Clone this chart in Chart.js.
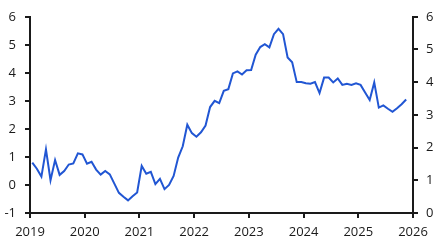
<!DOCTYPE html>
<html lang="en">
<head>
<meta charset="UTF-8" />
<title>Chart</title>
<script src="https://cdn.jsdelivr.net/npm/chart.js@4/dist/chart.umd.min.js"></script>
<style>
  html, body { margin: 0; padding: 0; background: #fff; }
  #wrap { width: 443px; height: 248px; }
</style>
</head>
<body>
<div id="wrap"><canvas id="chart" width="443" height="248"></canvas></div>
<script>
// monthly series, Jan 2019 .. Oct 2025
const startYear = 2019;
const values = [
  0.80, 0.58, 0.30, 1.27, 0.17, 0.89, 0.36, 0.50, 0.73, 0.77, 1.13, 1.09,
  0.76, 0.83, 0.55, 0.37, 0.50, 0.38, 0.05, -0.28, -0.42, -0.55, -0.40, -0.27,
  0.68, 0.40, 0.47, 0.03, 0.22, -0.15, 0.00, 0.32, 0.98, 1.38, 2.15, 1.85,
  1.72, 1.88, 2.12, 2.78, 3.00, 2.92, 3.36, 3.42, 3.98, 4.05, 3.94, 4.09,
  4.10, 4.65, 4.92, 5.02, 4.91, 5.38, 5.57, 5.38, 4.55, 4.38, 3.67, 3.67,
  3.63, 3.61, 3.67, 3.28, 3.83, 3.83, 3.66, 3.80, 3.57, 3.61, 3.57, 3.63,
  3.57, 3.30, 3.03, 3.66, 2.76, 2.84, 2.72, 2.61, 2.74, 2.88, 3.05
];
const xTicks = [2019, 2020, 2021, 2022, 2023, 2024, 2025, 2026];
const leftTicks = [-1, 0, 1, 2, 3, 4, 5, 6];
const rightTicks = [0, 1, 2, 3, 4, 5, 6];

const points = values.map((v, i) => ({ x: startYear + (i + 0.5) / 12, y: v }));

const ink = '#1a1a1a';
const font = { family: '"Open Sans", "Noto Sans", sans-serif', size: 13 };
const axisGrid = { drawOnChartArea: false, drawTicks: true, tickLength: 5, color: ink, lineWidth: 2 };
const axisBorder = { display: true, color: ink, width: 2 };

new Chart(document.getElementById('chart').getContext('2d'), {
  type: 'line',
  data: {
    datasets: [{
      data: points,
      borderColor: '#2156d3',
      borderWidth: 2,
      pointRadius: 0,
      tension: 0,
      fill: false,
      yAxisID: 'y',
    }],
  },
  options: {
    responsive: false,
    devicePixelRatio: 1,
    animation: false,
    layout: { padding: { top: 12, left: 0, right: 0, bottom: 0 } },
    plugins: { legend: { display: false }, tooltip: { enabled: false } },
    scales: {
      x: {
        type: 'linear',
        min: xTicks[0],
        max: xTicks[xTicks.length - 1],
        afterBuildTicks: (s) => { s.ticks = xTicks.map((v) => ({ value: v })); },
        ticks: { font, color: ink, padding: 6, maxRotation: 0, callback: (v) => String(v) },
        grid: axisGrid,
        border: axisBorder,
        afterFit: (s) => { s.height = 35; },
      },
      y: {
        position: 'left',
        min: leftTicks[0],
        max: leftTicks[leftTicks.length - 1],
        afterBuildTicks: (s) => { s.ticks = leftTicks.map((v) => ({ value: v })); },
        ticks: { font, color: ink, padding: 9 },
        grid: axisGrid,
        border: axisBorder,
        afterFit: (s) => { s.width = 30; },
      },
      y2: {
        position: 'right',
        display: true,
        min: rightTicks[0],
        max: rightTicks[rightTicks.length - 1],
        afterBuildTicks: (s) => { s.ticks = rightTicks.map((v) => ({ value: v })); },
        ticks: { font, color: ink, padding: 8 },
        grid: axisGrid,
        border: axisBorder,
        afterFit: (s) => { s.width = 30; },
      },
    },
  },
});
</script>
</body>
</html>
